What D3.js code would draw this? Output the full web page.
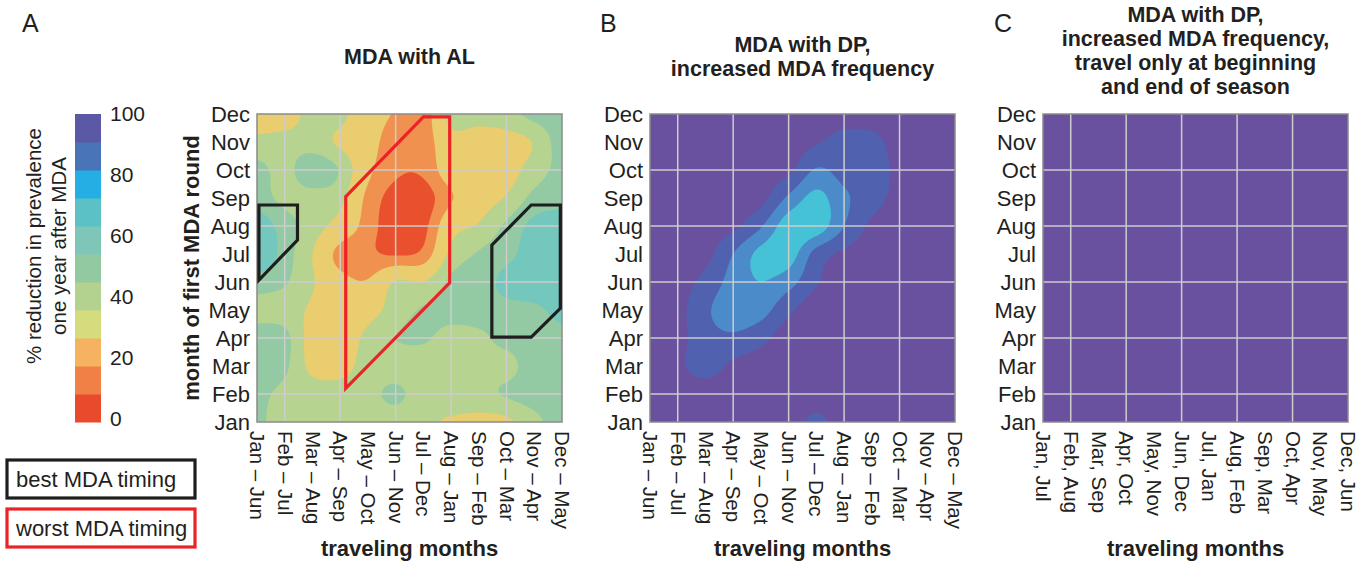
<!DOCTYPE html>
<html>
<head>
<meta charset="utf-8">
<script src="https://cdn.jsdelivr.net/npm/d3@7"></script>
<style>
  body { margin: 0; background: #fff; }
  text { font-family: "Liberation Sans", Arial, sans-serif; fill: #231f20; }
</style>
</head>
<body>
<svg id="chart" width="1372" height="569"></svg>
<script>
// Data: month of first MDA round (rows, Jan at bottom) x traveling months (columns)
const firstRound = ["Jan", "Feb", "Mar", "Apr", "May", "Jun", "Jul", "Aug", "Sep", "Oct", "Nov", "Dec"];
const travelMonths = ["Jan – Jun", "Feb – Jul", "Mar – Aug", "Apr – Sep", "May – Oct", "Jun – Nov",
  "Jul – Dec", "Aug – Jan", "Sep – Feb", "Oct – Mar", "Nov – Apr", "Dec – May"];
const travelEnds = ["Jan, Jul", "Feb, Aug", "Mar, Sep", "Apr, Oct", "May, Nov", "Jun, Dec",
  "Jul, Jan", "Aug, Feb", "Sep, Mar", "Oct, Apr", "Nov, May", "Dec, Jun"];

// % reduction in prevalence one year after MDA, rows Jan..Dec
const reductionA = [
  [47, 40, 40, 38, 40, 40, 38, 33, 32, 33, 42, 50],
  [48, 42, 40, 40, 42, 47, 40, 44, 42, 46, 50, 52],
  [53, 47, 32, 30, 40, 40, 40, 40, 44, 42, 50, 50],
  [50, 48, 30, 27, 38, 45, 46, 42, 43, 48, 50, 52],
  [42, 40, 33, 25, 30, 40, 46, 48, 50, 52, 53, 58],
  [50, 46, 36, 24, 21, 36, 35, 47, 50, 58, 62, 62],
  [66, 50, 35, 16, 12,  9, 13, 38, 46, 52, 60, 63],
  [62, 50, 40, 30, 15,  4,  7, 30, 36, 47, 58, 60],
  [50, 42, 41, 38, 17,  6,  5, 19, 29, 36, 48, 52],
  [48, 42, 52, 44, 23, 12, 12, 27, 26, 30, 40, 48],
  [38, 40, 40, 33, 25, 14, 14, 30, 28, 30, 36, 50],
  [28, 27, 40, 38, 26, 19, 14, 40, 40, 42, 48, 52]
];
const reductionB = [
  [95, 95, 95, 95, 95, 95, 88, 95, 95, 95, 95, 95],
  [95, 95, 95, 95, 95, 95, 95, 95, 95, 95, 95, 95],
  [95, 92, 86, 92, 95, 95, 95, 95, 95, 95, 95, 95],
  [95, 93, 84, 82, 87, 95, 95, 95, 95, 95, 95, 95],
  [95, 93, 82, 74, 76, 88, 95, 95, 95, 95, 95, 95],
  [95, 94, 87, 76, 70, 76, 89, 95, 95, 95, 95, 95],
  [95, 95, 93, 80, 67, 65, 84, 92, 95, 95, 95, 95],
  [95, 95, 95, 92, 81, 64, 64, 80, 92, 95, 95, 95],
  [95, 95, 95, 95, 93, 78, 67, 78, 86, 93, 95, 95],
  [95, 95, 95, 95, 95, 92, 79, 84, 86, 92, 95, 95],
  [95, 95, 95, 95, 95, 95, 91, 86, 87, 94, 95, 95],
  [95, 95, 95, 95, 95, 95, 95, 95, 95, 95, 95, 95]
];
const reductionC = [
  [100, 100, 100, 100, 100, 100, 100, 100, 100, 100, 100, 100],
  [100, 100, 100, 100, 100, 100, 100, 100, 100, 100, 100, 100],
  [100, 100, 100, 100, 100, 100, 100, 100, 100, 100, 100, 100],
  [100, 100, 100, 100, 100, 100, 100, 100, 100, 100, 100, 100],
  [100, 100, 100, 100, 100, 100, 100, 100, 100, 100, 100, 100],
  [100, 100, 100, 100, 100, 100, 100, 100, 100, 100, 100, 100],
  [100, 100, 100, 100, 100, 100, 100, 100, 100, 100, 100, 100],
  [100, 100, 100, 100, 100, 100, 100, 100, 100, 100, 100, 100],
  [100, 100, 100, 100, 100, 100, 100, 100, 100, 100, 100, 100],
  [100, 100, 100, 100, 100, 100, 100, 100, 100, 100, 100, 100],
  [100, 100, 100, 100, 100, 100, 100, 100, 100, 100, 100, 100],
  [100, 100, 100, 100, 100, 100, 100, 100, 100, 100, 100, 100]
];

// outlined regions in panel A, as [travel index, first-round index]
const bestLeft = [[0.07, 7.75], [1.46, 7.75], [1.46, 6.5], [0.07, 5.07]];
const bestRight = [[8.47, 6.32], [9.89, 7.75], [10.94, 7.75], [10.94, 4.06], [9.89, 3.03], [8.47, 3.03]];
const worst = [[3.2, 8.05], [6.0, 10.9], [6.95, 10.9], [6.95, 4.97], [3.2, 1.2]];

const barTicks = [0, 20, 40, 60, 80, 100];
const barColors = ["#e84a2b", "#f08045", "#f5b260", "#d5dc7d", "#b3d28f", "#93c9a0",
  "#7ec6b8", "#5bc1c6", "#24aee4", "#4a74b8", "#5b58a6"];

// contour levels and fills for each panel
const levelsA = [0, 10, 20, 35, 45, 55, 65];
const fillsA = ["#e9502d", "#f1914f", "#e9cd6e", "#b6d48f", "#93caa3", "#74c7bd", "#5cc3c8"];
const levelsB = [0, 70, 80, 90];
const fillsB = ["#45c2d6", "#4b8bc9", "#5061b0", "#6a51a0"];

// Layout
const svg = d3.select("#chart");
const plotW = 305, plotTop = 114, plotBottom = 422;
const grid = [1, 3, 5, 7, 9];

const y = d3.scaleLinear().domain([0, 11]).range([plotBottom, plotTop]);

// smooth the 12x12 table onto a fine grid for filled contours (Catmull-Rom)
const N = 123;
function fineGrid(m) {
  const cr = (p0, p1, p2, p3, t) => 0.5 * (2 * p1 + (-p0 + p2) * t +
    (2 * p0 - 5 * p1 + 4 * p2 - p3) * t * t + (-p0 + 3 * p1 - 3 * p2 + p3) * t * t * t);
  const at = (r, c) => m[Math.max(0, Math.min(11, r))][Math.max(0, Math.min(11, c))];
  const vals = new Array(N * N);
  for (let a = 0; a < N; a++) {
    const v = 11 - a * 11 / (N - 1);
    const r = Math.min(10, Math.floor(v)), tr = v - r;
    for (let b = 0; b < N; b++) {
      const u = b * 11 / (N - 1);
      const c = Math.min(10, Math.floor(u)), tc = u - c;
      const col = [-1, 0, 1, 2].map(k => cr(at(r + k, c - 1), at(r + k, c), at(r + k, c + 1), at(r + k, c + 2), tc));
      vals[a * N + b] = cr(col[0], col[1], col[2], col[3], tr);
    }
  }
  return vals;
}

function drawPanel(id, x0, matrix, levels, fills, labels) {
  const x = d3.scaleLinear().domain([0, 11]).range([x0, x0 + plotW]);
  const g = svg.append("g").attr("class", "panel-" + id);

  g.append("clipPath").attr("id", "clip-" + id)
    .append("rect").attr("x", x0).attr("y", plotTop).attr("width", plotW).attr("height", plotBottom - plotTop);

  const step = 11 / (N - 1);
  const proj = d3.geoTransform({
    point: function (cx, cy) {
      this.stream.point(x((cx - 0.5) * step), y(11 - (cy - 0.5) * step));
    }
  });
  const path = d3.geoPath(proj);
  const contours = d3.contours().size([N, N]).thresholds(levels)(fineGrid(matrix));

  g.append("g").attr("clip-path", `url(#clip-${id})`)
    .selectAll("path").data(contours).join("path")
    .attr("d", path)
    .attr("fill", (d, i) => fills[i]);

  // grid lines
  g.append("g").selectAll("line").data(grid).join("line")
    .attr("x1", d => x(d)).attr("x2", d => x(d))
    .attr("y1", plotTop).attr("y2", plotBottom)
    .attr("stroke", "#cdcdcd").attr("stroke-width", 1.5);
  g.append("g").selectAll("line").data(grid).join("line")
    .attr("x1", x0).attr("x2", x0 + plotW)
    .attr("y1", d => y(d)).attr("y2", d => y(d))
    .attr("stroke", "#cdcdcd").attr("stroke-width", 1.5);

  g.append("rect")
    .attr("x", x0).attr("y", plotTop).attr("width", plotW).attr("height", plotBottom - plotTop)
    .attr("fill", "none").attr("stroke", "#8b8b8b").attr("stroke-width", 1.5);

  // axes
  const ya = g.append("g").attr("transform", `translate(${x0},0)`)
    .call(d3.axisLeft(y).tickValues(d3.range(12)).tickFormat(i => firstRound[i]).tickSize(0).tickPadding(7));
  ya.select(".domain").remove();
  ya.selectAll("text").style("font-size", "22px").style("font-family", null).attr("fill", "#231f20");

  const xa = g.append("g").attr("transform", `translate(0,${plotBottom})`)
    .call(d3.axisBottom(x).tickValues(d3.range(12)).tickFormat(i => labels[i]).tickSize(0));
  xa.select(".domain").remove();
  xa.selectAll("text")
    .attr("transform", "rotate(90)")
    .attr("x", 9).attr("y", 0).attr("dy", "0.36em")
    .style("text-anchor", "start").style("font-size", "20.5px").style("font-family", null)
    .attr("fill", "#231f20");

  g.append("text")
    .attr("x", x0 + plotW / 2).attr("y", 556)
    .attr("text-anchor", "middle").style("font-size", "22px").style("font-weight", "bold")
    .text("traveling months");

  return x;
}

const xA = drawPanel("A", 257, reductionA, levelsA, fillsA, travelMonths);
drawPanel("B", 650, reductionB, levelsB, fillsB, travelMonths);
drawPanel("C", 1043, reductionC, levelsB, fillsB, travelEnds);

// outlines in panel A
const outline = d3.line().x(d => xA(d[0])).y(d => y(d[1]));
svg.append("g").selectAll("path").data([bestLeft, bestRight]).join("path")
  .attr("d", d => outline(d) + "Z")
  .attr("fill", "none").attr("stroke", "#1e1e1e").attr("stroke-width", 3.2).attr("stroke-linejoin", "miter");
svg.append("path")
  .attr("d", outline(worst) + "Z")
  .attr("fill", "none").attr("stroke", "#ec2227").attr("stroke-width", 3.2);

// y axis title for panel A
svg.append("text")
  .attr("transform", `translate(199,${(plotTop + plotBottom) / 2}) rotate(-90)`)
  .attr("text-anchor", "middle").style("font-size", "22px").style("font-weight", "bold")
  .text("month of first MDA round");

// panel titles
const titles = [
  { cx: 257 + plotW / 2, y0: 64, lines: ["MDA with AL"] },
  { cx: 650 + plotW / 2, y0: 52, lines: ["MDA with DP,", "increased MDA frequency"] },
  { cx: 1043 + plotW / 2, y0: 22, lines: ["MDA with DP,", "increased MDA frequency,", "travel only at beginning", "and end of season"] }
];
titles.forEach(t => {
  svg.append("text")
    .attr("text-anchor", "middle").style("font-size", "21.5px").style("font-weight", "bold")
    .selectAll("tspan").data(t.lines).join("tspan")
    .attr("x", t.cx).attr("y", (d, i) => t.y0 + i * 24)
    .text(d => d);
});

// panel letters
svg.append("g").selectAll("text").data([["A", 22], ["B", 600], ["C", 994]]).join("text")
  .attr("x", d => d[1]).attr("y", 32)
  .style("font-size", "25px")
  .text(d => d[0]);

// colour bar
const barX = 75, barW = 26;
const bar = d3.scaleLinear().domain([0, 100]).range([plotBottom - 3, plotTop]);
const bandStep = 100 / barColors.length;
const barBand = d3.scaleLinear().domain([0, 100]).range([plotBottom, plotTop]);
svg.append("g").selectAll("rect").data(barColors).join("rect")
  .attr("x", barX).attr("width", barW)
  .attr("y", (d, i) => barBand((i + 1) * bandStep))
  .attr("height", (d, i) => barBand(i * bandStep) - barBand((i + 1) * bandStep) + 0.5)
  .attr("fill", d => d);
const ba = svg.append("g").attr("transform", `translate(${barX + barW},0)`)
  .call(d3.axisRight(bar).tickValues(barTicks).tickSize(0).tickPadding(9));
ba.select(".domain").remove();
ba.selectAll("text").style("font-size", "21px").style("font-family", null).attr("fill", "#231f20");

svg.append("text")
  .attr("transform", `translate(0,${(plotTop + plotBottom) / 2 - 22}) rotate(-90)`)
  .attr("text-anchor", "middle").style("font-size", "20.5px")
  .selectAll("tspan").data(["% reduction in prevalence", "one year after MDA"]).join("tspan")
  .attr("x", 0).attr("y", (d, i) => 41 + i * 25)
  .text(d => d);

// legend
const legend = [
  { label: "best MDA timing", color: "#1e1e1e", y0: 460 },
  { label: "worst MDA timing", color: "#ec2227", y0: 509 }
];
const lg = svg.append("g").selectAll("g").data(legend).join("g");
lg.append("rect")
  .attr("x", 7).attr("y", d => d.y0).attr("width", 188).attr("height", 38)
  .attr("fill", "none").attr("stroke", d => d.color).attr("stroke-width", 3.2);
lg.append("text")
  .attr("x", 16).attr("y", d => d.y0 + 27)
  .style("font-size", "22px")
  .text(d => d.label);
</script>
</body>
</html>
